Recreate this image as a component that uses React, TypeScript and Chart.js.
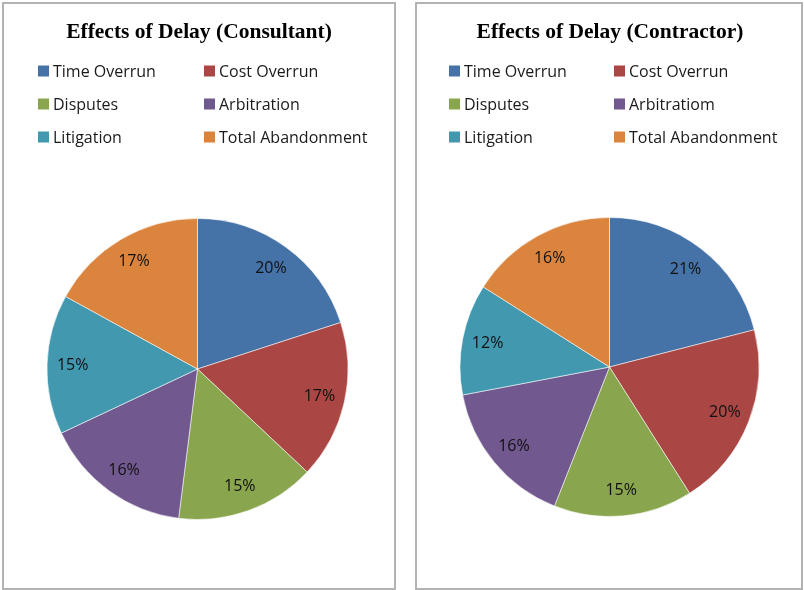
import React, { useEffect, useRef } from "react";
import { Chart, registerables } from "chart.js";

Chart.register(...registerables);

// ---- data ----
const consultantTitle = "Effects of Delay (Consultant)";
const contractorTitle = "Effects of Delay (Contractor)";
const consultantCategories = ["Time Overrun", "Cost Overrun", "Disputes", "Arbitration", "Litigation", "Total Abandonment"];
const contractorCategories = ["Time Overrun", "Cost Overrun", "Disputes", "Arbitratiom", "Litigation", "Total Abandonment"];
const consultantValues = [20, 17, 15, 16, 15, 17];
const contractorValues = [21, 20, 15, 16, 12, 16];
const sliceColors = ["#4572A7", "#AA4643", "#89A54E", "#71588F", "#4198AF", "#DB843D"];

const overlayPlugin = {
  id: "overlay",
  afterDatasetsDraw(chart: any, _args: any, opts: any) {
    const ctx = chart.ctx;
    const meta = chart.getDatasetMeta(0);
    const ds = chart.data.datasets[0];
    ctx.save();
    // slice labels
    ctx.font = '16px "Open Sans"';
    ctx.fillStyle = "#111111";
    ctx.textAlign = "center";
    ctx.textBaseline = "middle";
    meta.data.forEach((arc: any, i: number) => {
      const p = arc.getProps(["startAngle", "endAngle", "x", "y", "outerRadius"], true);
      const mid = (p.startAngle + p.endAngle) / 2;
      const rr = p.outerRadius * 0.83;
      ctx.fillText(ds.data[i] + "%", p.x + Math.cos(mid) * rr, p.y + Math.sin(mid) * rr);
    });
    // title
    ctx.font = 'bold 21.5px "Liberation Serif"';
    ctx.fillStyle = "#000";
    ctx.fillText(opts.title, opts.titleX, opts.titleY);
    // legend (2 columns)
    ctx.font = '16px "Open Sans"';
    ctx.textAlign = "left";
    const labels: string[] = chart.data.labels;
    labels.forEach((lab: string, i: number) => {
      const col = i % 2;
      const row = Math.floor(i / 2);
      const sx = opts.colX[col];
      const cy = opts.rowY0 + row * opts.rowGap;
      ctx.fillStyle = ds.backgroundColor[i];
      ctx.fillRect(sx, cy - 5.5, 11, 11);
      ctx.fillStyle = "#1a1a1a";
      ctx.fillText(lab, sx + 15, cy + 1);
    });
    ctx.restore();
  },
};

type BoxProps = {
  title: string;
  labels: string[];
  values: number[];
  left: number;
  width: number;
  cx: number;
  cy: number;
  r: number;
  colX: number[];
  titleX: number;
};

function PieBox({ title, labels, values, left, width, cx, cy, r, colX, titleX }: BoxProps) {
  const ref = useRef<HTMLCanvasElement | null>(null);
  const W = width - 4;
  const H = 584;
  useEffect(() => {
    if (!ref.current) return;
    const chart = new Chart(ref.current, {
      type: "pie",
      data: {
        labels,
        datasets: [
          {
            data: values,
            backgroundColor: sliceColors,
            borderColor: "rgba(255,255,255,0.55)",
            borderWidth: 1,
          },
        ],
      },
      options: {
        responsive: false,
        animation: false,
        layout: {
          padding: { left: cx - r, right: W - cx - r, top: cy - r, bottom: H - cy - r },
        },
        plugins: {
          legend: { display: false },
          tooltip: { enabled: false },
          overlay: { title, titleX, titleY: 28, colX, rowY0: 67, rowGap: 33 },
        } as any,
      },
      plugins: [overlayPlugin],
    });
    return () => chart.destroy();
  }, []);
  return (
    <div
      style={{
        position: "absolute",
        left,
        top: 2,
        width,
        height: 588,
        border: "2px solid #b3b3b3",
        boxSizing: "border-box",
        background: "#fff",
      }}
    >
      <canvas ref={ref} width={W} height={H} style={{ display: "block", width: W, height: H }} />
    </div>
  );
}

export default function App() {
  return (
    <div style={{ position: "absolute", left: 0, top: 0, width: 804, height: 590, background: "#fff" }}>
      <PieBox
        title={consultantTitle}
        labels={consultantCategories}
        values={consultantValues}
        left={2}
        width={394}
        cx={193.5}
        cy={365}
        r={151}
        colX={[34, 200]}
        titleX={195}
      />
      <PieBox
        title={contractorTitle}
        labels={contractorCategories}
        values={contractorValues}
        left={415}
        width={388}
        cx={192.5}
        cy={363}
        r={150}
        colX={[32, 197]}
        titleX={193}
      />
    </div>
  );
}
